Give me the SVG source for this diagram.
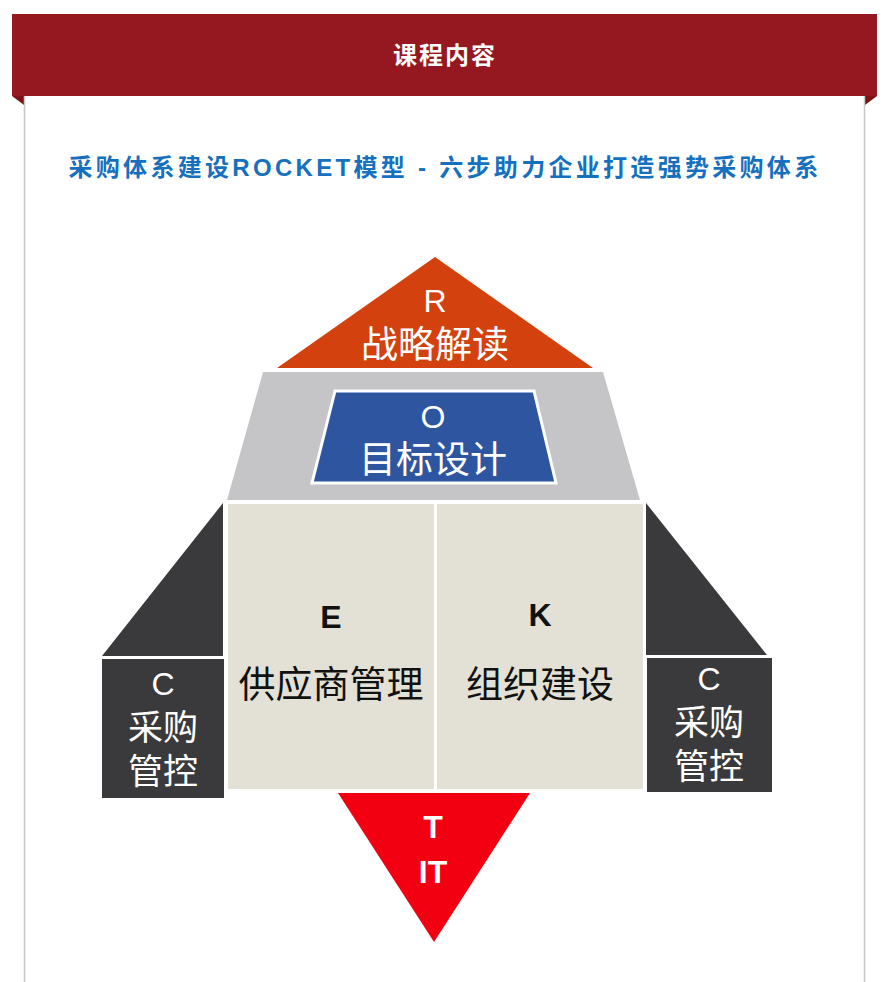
<svg xmlns="http://www.w3.org/2000/svg" width="890" height="982" viewBox="0 0 890 982">
<style>
text{font-family:"Liberation Sans","Noto Sans CJK SC",sans-serif;text-anchor:middle}
.w{fill:#ffffff}
.k{fill:#111111}
.cj{font-size:37px}
.cs{font-size:35px}
.lt{font-size:32px}
</style>
<rect width="890" height="982" fill="#ffffff"/>
<g id="header">
<polygon points="12,96 24,96 24,105" fill="#7a1218"/>
<polygon points="877,96 865,96 865,105" fill="#7a1218"/>
<rect x="12" y="14" width="865" height="82" fill="#951820"/>
<line x1="24.5" y1="96" x2="24.5" y2="982" stroke="#c8c8c8" stroke-width="1.5"/>
<line x1="864.5" y1="96" x2="864.5" y2="982" stroke="#c8c8c8" stroke-width="1.5"/>
<text x="445" y="64" class="w" style="font-size:24px;font-weight:bold;letter-spacing:2px">课程内容</text>
</g>
<g id="subtitle">
<text x="445" y="176" style="font-size:24px;font-weight:bold;fill:#1570c0;letter-spacing:3.3px">采购体系建设ROCKET模型 - 六步助力企业打造强势采购体系</text>
</g>
<g id="R">
<polygon points="435,257 593,368 277,368" fill="#d2410e"/>
<text x="435" y="312" class="w lt">R</text>
<text x="435" y="358" class="w cj">战略解读</text>
</g>
<g id="O">
<polygon points="263,372 603,372 640,500 227,500" fill="#c5c5c7"/>
<polygon points="335,391 534,391 556,483 312,483" fill="#2e55a0" stroke="#ffffff" stroke-width="3"/>
<text x="433" y="428" class="w lt">O</text>
<text x="433" y="473" class="w cj">目标设计</text>
</g>
<g id="E">
<rect x="228" y="504" width="206" height="285" fill="#e3e1d5"/>
<text x="331" y="628" class="k" style="font-size:32px;font-weight:bold">E</text>
<text x="331" y="698" class="k cj">供应商管理</text>
</g>
<g id="K">
<rect x="437" y="504" width="206" height="285" fill="#e3e1d5"/>
<text x="540" y="626" class="k" style="font-size:32px;font-weight:bold">K</text>
<text x="540" y="698" class="k cj">组织建设</text>
</g>
<g id="C-left">
<polygon points="223,503 223,656 102,656" fill="#3a393b"/>
<rect x="102" y="659" width="122" height="139" fill="#3a393b"/>
<text x="163" y="695" class="w lt">C</text>
<text x="163" y="740" class="w cs">采购</text>
<text x="163" y="784" class="w cs">管控</text>
</g>
<g id="C-right">
<polygon points="646,503 646,655 767,655" fill="#3a393b"/>
<rect x="647" y="658" width="125" height="134" fill="#3a393b"/>
<text x="709" y="690" class="w lt">C</text>
<text x="709" y="735" class="w cs">采购</text>
<text x="709" y="779" class="w cs">管控</text>
</g>
<g id="T">
<polygon points="338,793 530,793 434,942" fill="#f20012"/>
<text x="433" y="838" class="w" style="font-size:32px;font-weight:bold">T</text>
<text x="433" y="883" class="w" style="font-size:32px;font-weight:bold">IT</text>
</g>
<g id="connectors"></g>
</svg>
